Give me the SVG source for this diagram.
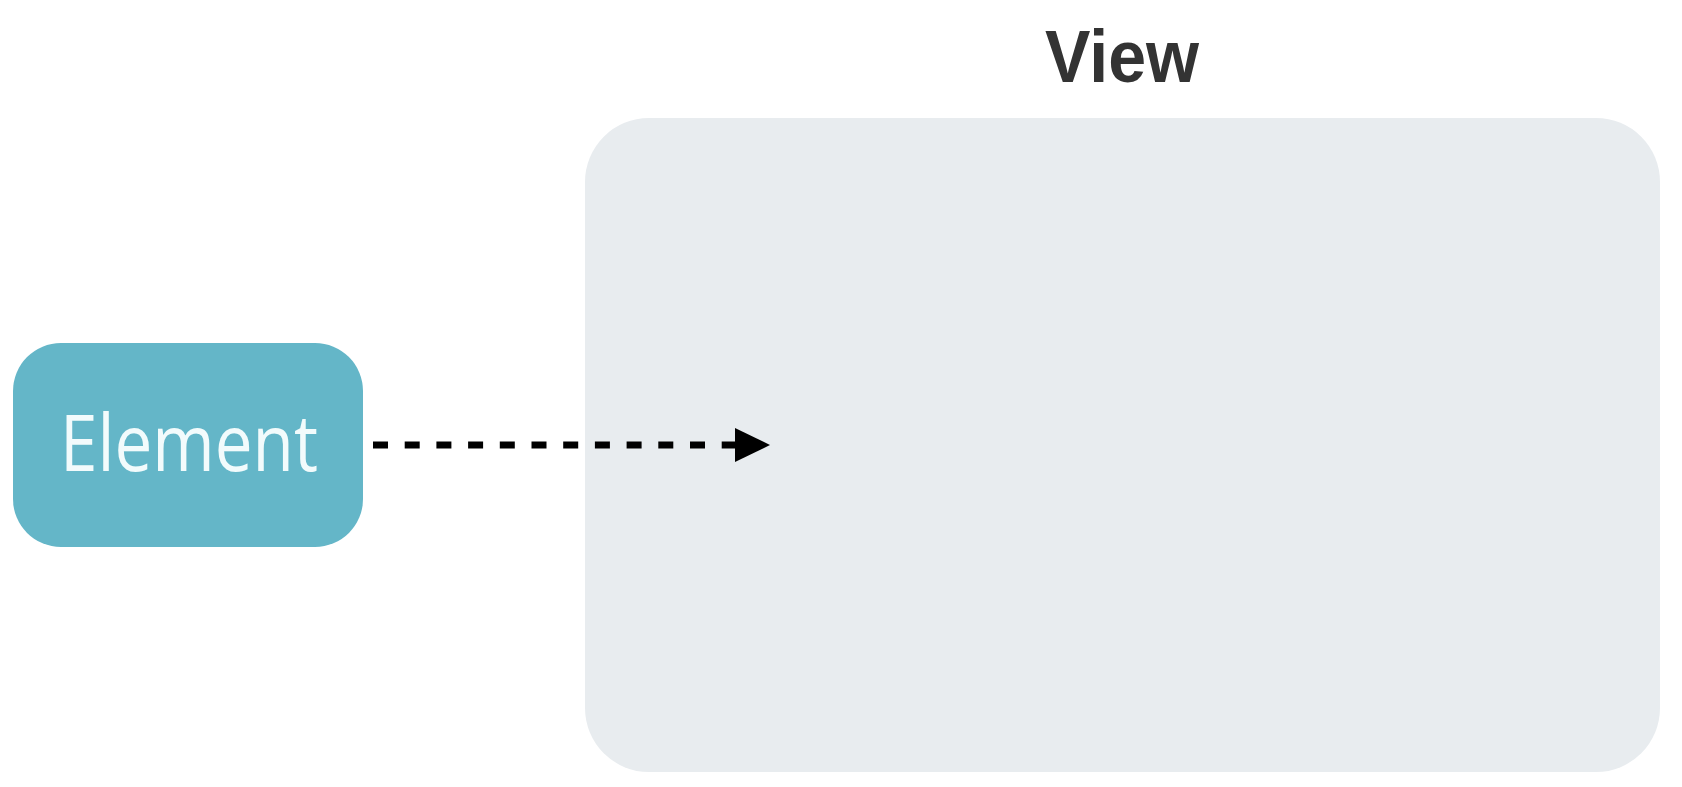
<svg xmlns="http://www.w3.org/2000/svg" width="1682" height="787" viewBox="0 0 1682 787">
<style>
.title{font-family:"Liberation Sans",Arial,sans-serif;font-weight:bold;font-size:75px;fill:#333333}
.label{font-family:"Open Sans","Liberation Sans",Arial,sans-serif;font-size:78px;fill:#f2fbfc}
.edge{stroke:#000000;stroke-width:7;stroke-dasharray:15 16.7;fill:none}
</style>
<defs>
<marker id="arrow" markerUnits="userSpaceOnUse" markerWidth="36" markerHeight="36" refX="5" refY="17" orient="auto">
<path d="M0,0 L35,17 L0,34 Z" fill="#000000"/>
</marker>
</defs>
<rect width="1682" height="787" fill="#ffffff"/>
<g id="view">
<rect x="585" y="118" width="1075" height="654" rx="64" ry="64" fill="#e8ecef"/>
<text class="title" x="1122" y="82" text-anchor="middle" textLength="154" lengthAdjust="spacingAndGlyphs">View</text>
</g>
<g id="element">
<rect x="13" y="343" width="350" height="204" rx="48" ry="48" fill="#64b6c8"/>
<text class="label" x="189" y="471" text-anchor="middle" textLength="258" lengthAdjust="spacingAndGlyphs">Element</text>
</g>
<g id="connectors">
<line class="edge" x1="373" y1="445" x2="740" y2="445" marker-end="url(#arrow)"/>
</g>
</svg>
